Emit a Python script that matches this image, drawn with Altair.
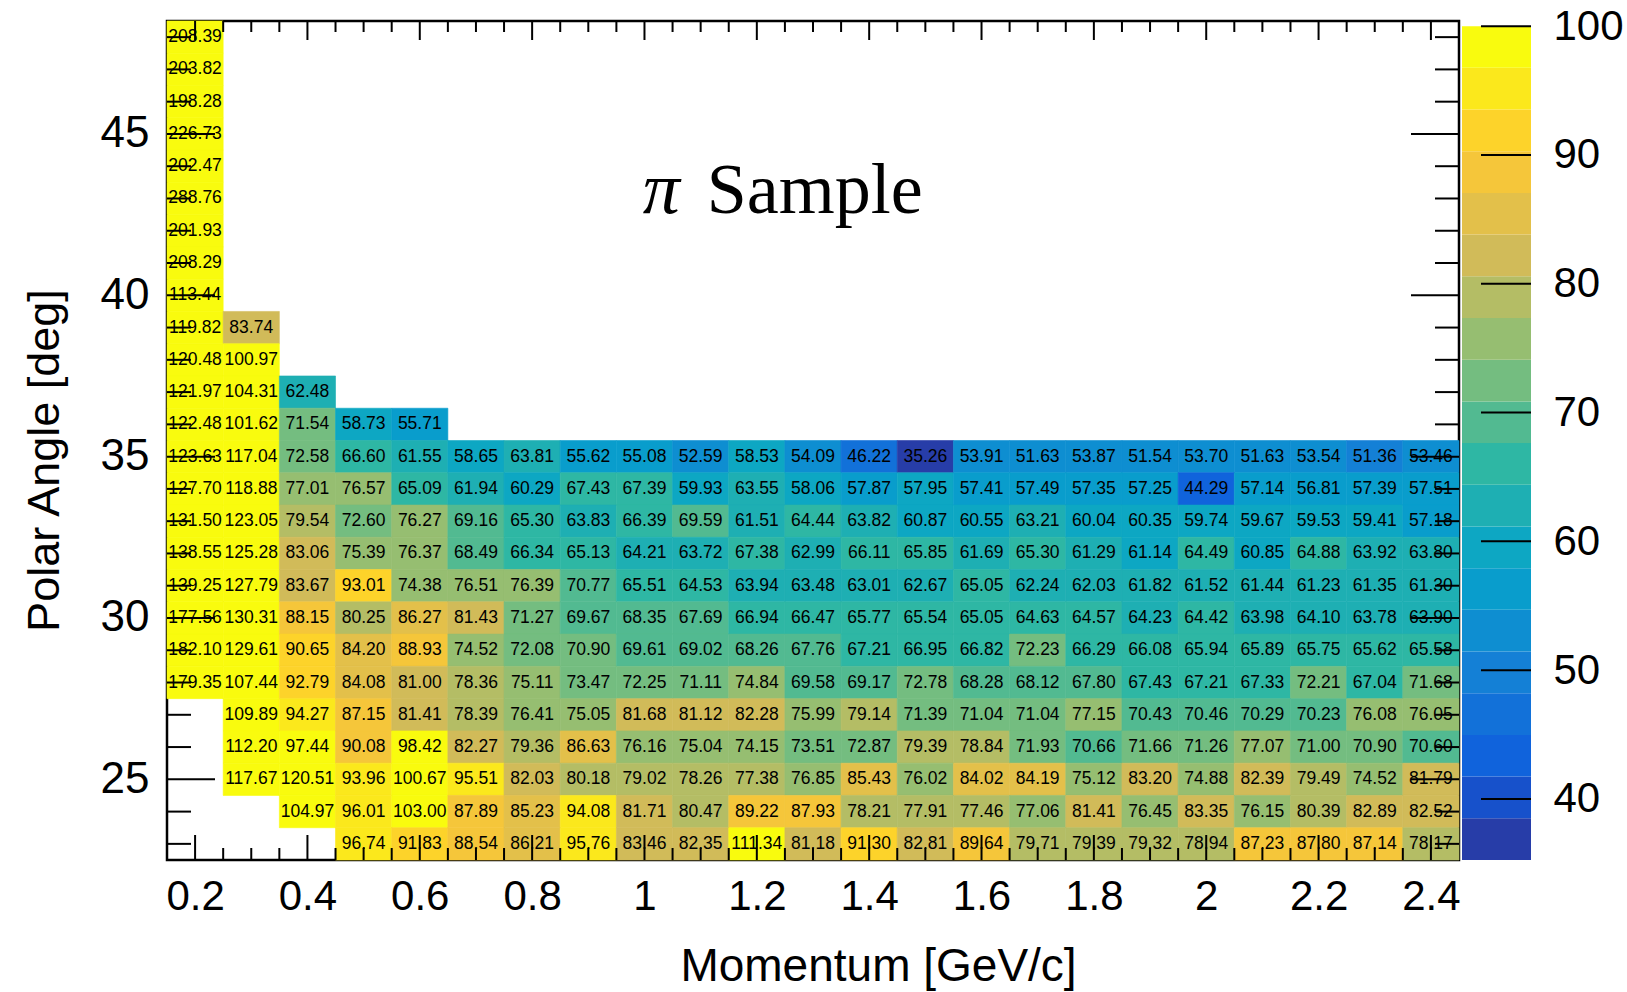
import altair as alt
import numpy as np
import pandas as pd

# ---------------- data ----------------
momentum_centers = [0.2, 0.3, 0.4, 0.5, 0.6, 0.7, 0.8, 0.9, 1.0, 1.1, 1.2, 1.3,
                    1.4, 1.5, 1.6, 1.7, 1.8, 1.9, 2.0, 2.1, 2.2, 2.3, 2.4]

eff_48 = [208.39]
eff_47 = [203.82]
eff_46 = [198.28]
eff_45 = [226.73]
eff_44 = [202.47]
eff_43 = [288.76]
eff_42 = [201.93]
eff_41 = [208.29]
eff_40 = [113.44]
eff_39 = [119.82, 83.74]
eff_38 = [120.48, 100.97]
eff_37 = [121.97, 104.31, 62.48]
eff_36 = [122.48, 101.62, 71.54, 58.73, 55.71]
eff_35 = [123.63, 117.04, 72.58, 66.60, 61.55, 58.65, 63.81, 55.62, 55.08, 52.59, 58.53, 54.09,
          46.22, 35.26, 53.91, 51.63, 53.87, 51.54, 53.70, 51.63, 53.54, 51.36, 53.46]
eff_34 = [127.70, 118.88, 77.01, 76.57, 65.09, 61.94, 60.29, 67.43, 67.39, 59.93, 63.55, 58.06,
          57.87, 57.95, 57.41, 57.49, 57.35, 57.25, 44.29, 57.14, 56.81, 57.39, 57.51]
eff_33 = [131.50, 123.05, 79.54, 72.60, 76.27, 69.16, 65.30, 63.83, 66.39, 69.59, 61.51, 64.44,
          63.82, 60.87, 60.55, 63.21, 60.04, 60.35, 59.74, 59.67, 59.53, 59.41, 57.18]
eff_32 = [138.55, 125.28, 83.06, 75.39, 76.37, 68.49, 66.34, 65.13, 64.21, 63.72, 67.38, 62.99,
          66.11, 65.85, 61.69, 65.30, 61.29, 61.14, 64.49, 60.85, 64.88, 63.92, 63.80]
eff_31 = [139.25, 127.79, 83.67, 93.01, 74.38, 76.51, 76.39, 70.77, 65.51, 64.53, 63.94, 63.48,
          63.01, 62.67, 65.05, 62.24, 62.03, 61.82, 61.52, 61.44, 61.23, 61.35, 61.30]
eff_30 = [177.56, 130.31, 88.15, 80.25, 86.27, 81.43, 71.27, 69.67, 68.35, 67.69, 66.94, 66.47,
          65.77, 65.54, 65.05, 64.63, 64.57, 64.23, 64.42, 63.98, 64.10, 63.78, 63.90]
eff_29 = [182.10, 129.61, 90.65, 84.20, 88.93, 74.52, 72.08, 70.90, 69.61, 69.02, 68.26, 67.76,
          67.21, 66.95, 66.82, 72.23, 66.29, 66.08, 65.94, 65.89, 65.75, 65.62, 65.58]
eff_28 = [179.35, 107.44, 92.79, 84.08, 81.00, 78.36, 75.11, 73.47, 72.25, 71.11, 74.84, 69.58,
          69.17, 72.78, 68.28, 68.12, 67.80, 67.43, 67.21, 67.33, 72.21, 67.04, 71.68]
eff_27 = [None, 109.89, 94.27, 87.15, 81.41, 78.39, 76.41, 75.05, 81.68, 81.12, 82.28, 75.99,
          79.14, 71.39, 71.04, 71.04, 77.15, 70.43, 70.46, 70.29, 70.23, 76.08, 76.05]
eff_26 = [None, 112.20, 97.44, 90.08, 98.42, 82.27, 79.36, 86.63, 76.16, 75.04, 74.15, 73.51,
          72.87, 79.39, 78.84, 71.93, 70.66, 71.66, 71.26, 77.07, 71.00, 70.90, 70.60]
eff_25 = [None, 117.67, 120.51, 93.96, 100.67, 95.51, 82.03, 80.18, 79.02, 78.26, 77.38, 76.85,
          85.43, 76.02, 84.02, 84.19, 75.12, 83.20, 74.88, 82.39, 79.49, 74.52, 81.79]
eff_24 = [None, None, 104.97, 96.01, 103.00, 87.89, 85.23, 94.08, 81.71, 80.47, 89.22, 87.93,
          78.21, 77.91, 77.46, 77.06, 81.41, 76.45, 83.35, 76.15, 80.39, 82.89, 82.52]
eff_23 = [None, None, None, 96.74, 91.83, 88.54, 86.21, 95.76, 83.46, 82.35, 111.34, 81.18,
          91.30, 82.81, 89.64, 79.71, 79.39, 79.32, 78.94, 87.23, 87.80, 87.14, 78.17]

rows = {48: eff_48, 47: eff_47, 46: eff_46, 45: eff_45, 44: eff_44, 43: eff_43, 42: eff_42,
        41: eff_41, 40: eff_40, 39: eff_39, 38: eff_38, 37: eff_37, 36: eff_36, 35: eff_35,
        34: eff_34, 33: eff_33, 32: eff_32, 31: eff_31, 30: eff_30, 29: eff_29, 28: eff_28,
        27: eff_27, 26: eff_26, 25: eff_25, 24: eff_24, 23: eff_23}

x_tick_labels = [0.2, 0.4, 0.6, 0.8, 1.0, 1.2, 1.4, 1.6, 1.8, 2.0, 2.2, 2.4]
y_tick_labels = [25, 30, 35, 40, 45]
z_tick_labels = [40, 50, 60, 70, 80, 90, 100]

# ---------------- table ----------------
records = []
for ang, vals in rows.items():
    for i, v in enumerate(vals):
        if v is None:
            continue
        m = momentum_centers[i]
        records.append(dict(p0=m - 0.05, p1=m + 0.05, a0=ang - 0.5, a1=ang + 0.5,
                            p=m, a=ang, eff=v))
df = pd.DataFrame(records)

zmin = float(df["eff"].min())
zmax = 100.0

# ROOT kBird palette, 20 contour levels (colour index as in THistPainter)
stops = [0.0, 0.125, 0.25, 0.375, 0.5, 0.625, 0.75, 0.875, 1.0]
red = [0.2082, 0.0592, 0.0780, 0.0232, 0.1802, 0.5301, 0.8186, 0.9956, 0.9764]
green = [0.1664, 0.3599, 0.5041, 0.6419, 0.7178, 0.7492, 0.7328, 0.7862, 0.9832]
blue = [0.5293, 0.8684, 0.8385, 0.7914, 0.6425, 0.4662, 0.3499, 0.1968, 0.0539]
ncont = 20
band_colors = []
for i in range(ncont):
    idx = min(int((i + 0.99) * 255 / ncont), 254)
    t = idx / 254.0
    r = np.interp(t, stops, red)
    g = np.interp(t, stops, green)
    b = np.interp(t, stops, blue)
    band_colors.append("#%02x%02x%02x" % (int(round(r * 255)), int(round(g * 255)), int(round(b * 255))))

color_scale = alt.Scale(type="quantize", domain=[zmin, zmax], range=band_colors, nice=False)

W, H = 1292, 839
CBW = 69
FONT = "Liberation Sans"

xscale = alt.Scale(domain=[0.15, 2.45], nice=False, zero=False)
yscale = alt.Scale(domain=[22.5, 48.5], nice=False, zero=False)

base = alt.Chart(df)

heat = base.mark_rect(strokeWidth=0.6).encode(
    x=alt.X("p0:Q", scale=xscale,
            axis=alt.Axis(values=x_tick_labels, format="~g", labelFontSize=42, labelPadding=16,
                          ticks=False, domain=False, grid=False, labelFont=FONT,
                          labelColor="black", title="Momentum [GeV/c]", titleFont=FONT,
                          titleFontSize=46, titleFontWeight="normal", titleColor="black",
                          titleX=711, titleY=120, titleAlign="center",
                          titleBaseline="alphabetic", labelFlush=False)),
    x2="p1:Q",
    y=alt.Y("a0:Q", scale=yscale,
            axis=alt.Axis(values=y_tick_labels, labelFontSize=44, labelPadding=18,
                          ticks=False, domain=False, grid=False, labelFont=FONT,
                          labelColor="black", title="Polar Angle [deg]", titleFont=FONT,
                          titleFontSize=45, titleFontWeight="normal", titleColor="black",
                          titleX=-109, titleY=439, titleAlign="center",
                          titleBaseline="alphabetic", labelFlush=False)),
    y2="a1:Q",
    color=alt.Color("eff:Q", scale=color_scale, legend=None),
    stroke=alt.Stroke("eff:Q", scale=color_scale, legend=None),
)

text = base.mark_text(font=FONT, fontSize=17.5, color="black", baseline="middle",
                      align="center").encode(
    x="p:Q", y="a:Q", text=alt.Text("eff:Q", format=".2f"))

# inward ticks (ROOT style)
x_major = x_tick_labels
x_minor = [round(0.2 + 0.05 * k, 2) for k in range(45)]
x_minor = [v for v in x_minor if all(abs(v - M) > 1e-6 for M in x_major)]
y_major = y_tick_labels
y_minor = [v for v in range(23, 49) if v not in y_major]


def xticks(vals, y_from, y_to):
    return alt.Chart(pd.DataFrame({"p": vals})).mark_rule(color="black", strokeWidth=2).encode(
        x="p:Q", y=alt.value(y_from), y2=alt.value(y_to))


def yticks(vals, x_from, x_to):
    return alt.Chart(pd.DataFrame({"a": vals})).mark_rule(color="black", strokeWidth=2).encode(
        y="a:Q", x=alt.value(x_from), x2=alt.value(x_to))


tick_layers = [
    xticks(x_major, H, H - 25), xticks(x_minor, H, H - 12),
    xticks(x_major, 0, 19), xticks(x_minor, 0, 11),
    yticks(y_major, 0, 48), yticks(y_minor, 0, 24),
    yticks(y_major, W, W - 48), yticks(y_minor, W, W - 24),
]

ann_pi = alt.Chart(pd.DataFrame({"t": ["π"]})).mark_text(
    font="Liberation Serif", fontStyle="italic", fontSize=74, align="center",
    baseline="alphabetic", color="black").encode(
    x=alt.datum(1.03), y=alt.datum(42.55), text="t:N")
ann_sample = alt.Chart(pd.DataFrame({"t": ["Sample"]})).mark_text(
    font="Liberation Serif", fontSize=72, align="left",
    baseline="alphabetic", color="black").encode(
    x=alt.datum(1.111), y=alt.datum(42.55), text="t:N")

main = alt.layer(heat, text, *tick_layers, ann_pi, ann_sample).properties(width=W, height=H)

# colour bar
levels = np.linspace(zmin, zmax, ncont + 1)
cb_df = pd.DataFrame({"lo": levels[:-1], "hi": levels[1:], "mid": (levels[:-1] + levels[1:]) / 2})
zscale = alt.Scale(domain=[zmin, zmax + 0.4], nice=False, zero=False)
cbar_rect = alt.Chart(cb_df).mark_rect().encode(
    y=alt.Y("lo:Q", scale=zscale,
            axis=alt.Axis(orient="right", values=z_tick_labels, labelFontSize=42,
                          labelPadding=22, ticks=False, domain=False, grid=False,
                          labelFont=FONT, labelColor="black", title=None, labelFlush=False)),
    y2="hi:Q",
    color=alt.Color("mid:Q", scale=color_scale, legend=None),
)
cbar_ticks = alt.Chart(pd.DataFrame({"lo": z_tick_labels})).mark_rule(
    color="black", strokeWidth=2).encode(
    y="lo:Q", x=alt.value(CBW - 50), x2=alt.value(CBW))
cbar = alt.layer(cbar_rect, cbar_ticks).properties(
    width=CBW, height=H, view=alt.ViewBackground(strokeWidth=0))

chart = alt.hconcat(main, cbar, spacing=0).resolve_scale(
    x="independent", y="independent", color="shared", stroke="shared"
).properties(
    padding={"left": 20, "top": 5, "right": 0, "bottom": 0},
    background="white",
).configure_view(stroke="black", strokeWidth=2.5)

chart.save("out.html", embed_options={"renderer": "svg", "actions": False})
